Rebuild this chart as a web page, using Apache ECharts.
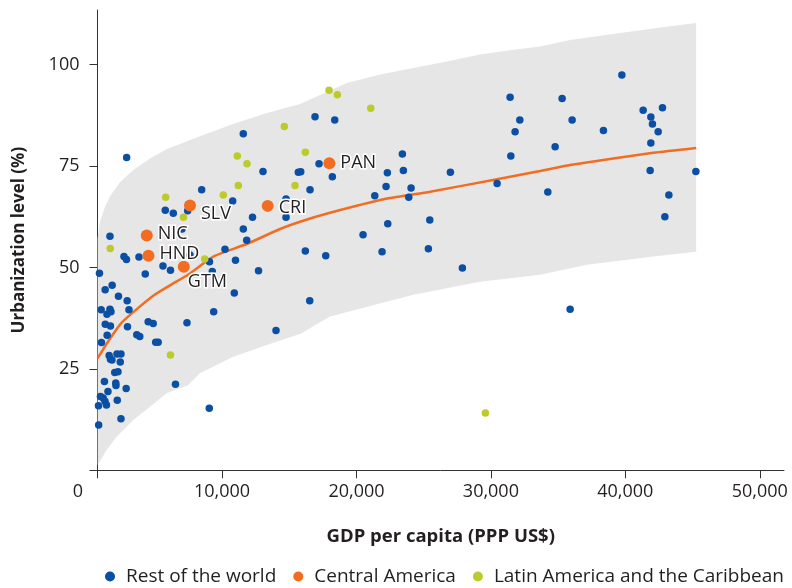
<!DOCTYPE html>
<html>
<head>
<meta charset="utf-8">
<script src="https://cdn.jsdelivr.net/npm/echarts@6/dist/echarts.min.js"></script>
<style>html,body{margin:0;padding:0;background:#fff}#chart{width:792px;height:588px}</style>
</head>
<body>
<div id="chart"></div>
<script>
// ---- Data (GDP per capita PPP US$, urbanization %) ----
const restOfWorld = [
  [2909,77.1],[11584,83.0],[13050,73.7],[15676,73.5],[8489,69.2],[10796,66.4],[5781,64.1],[6376,63.4],
  [7448,64.0],[14762,62.4],[12269,62.4],[1667,57.7],[7024,59.5],[11584,59.5],[11838,56.7],[10223,54.5],
  [2708,52.7],[2894,52.0],[3824,52.6],[885,48.6],[4293,48.4],[5610,50.4],[6168,49.3],[9070,51.4],
  [11004,51.8],[12716,49.2],[9278,49.0],[7619,53.1],[14762,66.9],[1830,45.6],[1310,44.5],[2299,42.9],
  [2946,41.8],[10915,43.7],[1012,39.6],[1667,39.7],[1741,39.1],[1443,38.5],[3080,39.6],[9382,39.1],
  [1317,36.0],[1704,35.6],[4509,36.6],[4881,36.2],[7396,36.4],[2969,35.4],[1034,31.5],[1458,33.3],
  [3661,33.4],[3884,33.0],[5067,31.6],[5253,31.6],[14018,34.5],[1607,28.3],[1704,27.4],[1815,27.2],
  [2187,28.7],[2485,28.7],[2433,26.7],[2024,24.1],[2262,24.3],[1257,21.9],[2098,21.5],[2113,20.9],
  [2872,20.2],[6540,21.2],[1518,19.4],[960,18.2],[1161,17.8],[1295,17.0],[1406,16.1],[811,15.9],
  [2210,17.3],[9055,15.3],[2485,12.7],[826,11.2],[16920,87.2],[18385,86.4],[31429,92.0],[32150,86.4],
  [31801,83.5],[31481,77.5],[17217,75.6],[15856,73.6],[18207,72.4],[23415,78.0],[23489,73.9],[22299,73.4],
  [26987,73.5],[22202,70.0],[24063,69.6],[23891,67.3],[21362,67.7],[16548,69.2],[30461,70.7],[22329,60.8],
  [25454,61.7],[20491,58.1],[16198,54.1],[17716,52.9],[21905,53.9],[25350,54.6],[27880,49.9],[16525,41.8],
  [39740,97.5],[35298,91.7],[36042,86.4],[38371,83.8],[41324,88.8],[42761,89.4],[41897,87.1],[42016,85.4],
  [42441,83.5],[41897,80.7],[34777,79.8],[41845,73.9],[45246,73.7],[34234,68.6],[43237,67.9],[42939,62.5],
  [35893,39.7]
];
const latinAmerica = [
  [14635,84.8],[11138,77.5],[11860,75.6],[15431,70.2],[11213,70.2],[10097,67.9],[5811,67.3],[7135,62.4],
  [1689,54.7],[8713,52.1],[6168,28.4],[17961,93.7],[18579,92.6],[21064,89.3],[16198,78.4],[29591,14.1]
];
const centralNames = ['SLV','CRI','NIC','HND','GTM','PAN'];
const centralGdp   = [7619, 13400, 4405, 4531, 7158, 17984];
const centralUrb   = [65.3, 65.2, 57.9, 52.9, 50.2, 75.7];
const fitLine = [
  [751,27.6],[1518,31.7],[2507,36.3],[3750,40.0],[4992,43.3],[6227,45.8],[7470,48.2],[9353,52.7],
  [11838,55.8],[14315,59.5],[15803,61.3],[18036,63.5],[22277,67.0],[25476,68.7],[30164,71.6],
  [33661,73.8],[35893,75.3],[42068,78.3],[45268,79.5]
];
const bandUpper = [
  [751,57.3],[923,61.2],[1295,64.9],[1667,67.6],[2411,71.0],[3378,74.0],[4643,76.9],[5908,79.2],
  [8363,82.4],[10818,85.4],[13348,88.1],[15803,90.3],[19278,95.5],[21756,97.6],[24234,99.2],
  [26718,100.8],[29195,102.5],[31674,103.7],[33653,104.5],[35892,106.1],[39612,107.8],[43332,109.5],[45267,110.3]
];
const bandLower = [
  [751,1.3],[1421,5.0],[2165,8.3],[3400,12.4],[4643,15.7],[5885,19.0],[7470,21.0],[8363,23.9],
  [10840,28.0],[13326,30.9],[15803,33.6],[18035,37.9],[24233,43.3],[29195,46.5],[33659,48.2],
  [37134,50.7],[42090,52.7],[45267,53.9]
];
const xTicks = [740, 10000, 20000, 30000, 40000, 50000];
const yTicks = [0, 25, 50, 75, 100];
const yLabels = [25, 50, 75, 100];

const BLUE = '#0a4fa3', ORANGE = '#f26d21', GREEN = '#bccb2b', BAND = '#e6e6e6', INK = '#231f20';
const FONT = '"Open Sans", sans-serif';
const xMin = 740, xMax = 51800;

const labelPos = {
  SLV: {position: 'right', offset: [0, 8]},
  CRI: {position: 'right', offset: [0, 2]},
  NIC: {position: 'right', offset: [0, -2]},
  HND: {position: 'right', offset: [0, -2]},
  GTM: {position: 'right', offset: [-7, 15]},
  PAN: {position: 'right', offset: [0, 0]}
};
const centralData = centralNames.map((n, i) => ({
  value: [centralGdp[i], centralUrb[i]], name: n,
  label: Object.assign({show: true, formatter: n}, labelPos[n])
}));

function fmt(v) { return String(v).replace(/\B(?=(\d{3})+(?!\d))/g, ','); }

const chart = echarts.init(document.getElementById('chart'), null, {renderer: 'canvas'});
chart.setOption({
  animation: false,
  textStyle: {fontFamily: FONT},
  grid: {left: 97.5, right: 8, top: 10, bottom: 117.7, containLabel: false},
  xAxis: {
    type: 'value', min: xMin, max: xMax,
    name: 'GDP per capita (PPP US$)', nameLocation: 'middle', nameGap: 57,
    nameTextStyle: {fontFamily: FONT, fontSize: 18.5, fontWeight: 'bold', color: INK},
    axisLine: {show: true, lineStyle: {color: '#333', width: 1}},
    axisTick: {show: true, length: 8, lineStyle: {color: '#333'}, customValues: xTicks},
    axisLabel: {
      customValues: xTicks, margin: 13, color: INK, fontSize: 18, fontFamily: FONT,
      formatter: v => v === xMin ? '{z|0}' : fmt(v),
      rich: {z: {fontSize: 18, fontFamily: FONT, color: INK, padding: [0, 39, 0, 0]}}
    },
    splitLine: {show: false}
  },
  yAxis: {
    type: 'value', min: 0, max: 113.5,
    name: 'Urbanization level (%)', nameLocation: 'middle', nameGap: 70, nameRotate: 90,
    nameTextStyle: {fontFamily: FONT, fontSize: 17, fontWeight: 'bold', color: INK},
    axisLine: {show: true, lineStyle: {color: '#333', width: 1}},
    axisTick: {show: true, length: 8, lineStyle: {color: '#333'}, customValues: yTicks},
    axisLabel: {customValues: yLabels, margin: 18, color: INK, fontSize: 18, fontFamily: FONT},
    splitLine: {show: false}
  },
  legend: {
    top: 567, left: 105, width: 700, padding: 0, itemGap: 17, itemWidth: 10, itemHeight: 10, icon: 'circle',
    textStyle: {fontFamily: FONT, fontSize: 19, color: INK, padding: [0, 0, 0, 6]},
    data: ['Rest of the world', 'Central America', 'Latin America and the Caribbean']
  },
  series: [
    {
      type: 'custom', name: 'band', silent: true, z: 1,
      data: [[xMin, 0]],
      renderItem: function (params, api) {
        const pts = bandUpper.map(p => api.coord(p));
        for (let i = bandLower.length - 1; i >= 0; i--) pts.push(api.coord(bandLower[i]));
        return {type: 'polygon', shape: {points: pts}, style: {fill: BAND}};
      }
    },
    {
      type: 'line', name: 'fit', data: fitLine, showSymbol: false, smooth: 0.2, z: 2,
      lineStyle: {color: ORANGE, width: 2.5}, silent: true
    },
    {
      type: 'scatter', name: 'Rest of the world', data: restOfWorld, symbolSize: 7.5, z: 3,
      itemStyle: {color: BLUE, opacity: 1}
    },
    {
      type: 'scatter', name: 'Latin America and the Caribbean', data: latinAmerica, symbolSize: 7.5, z: 4,
      itemStyle: {color: GREEN, opacity: 1}
    },
    {
      type: 'scatter', name: 'Central America', data: centralData, symbolSize: 12, z: 5,
      itemStyle: {color: ORANGE, opacity: 1},
      label: {fontFamily: FONT, fontSize: 18, color: INK, textBorderColor: '#fff', textBorderWidth: 3}
    }
  ]
});
</script>
</body>
</html>
